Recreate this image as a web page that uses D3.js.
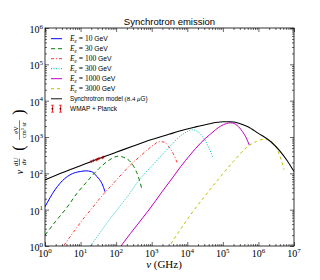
<!DOCTYPE html>
<html>
<head>
<meta charset="utf-8">
<script src="https://cdn.jsdelivr.net/npm/d3@7"></script>
<style>
  html, body { margin: 0; padding: 0; background: #fff; }
  svg { display: block; }
  .serif { font-family: 'Liberation Serif', 'DejaVu Serif', serif; }
  .sans { font-family: 'Liberation Sans', Arial, sans-serif; }
</style>
</head>
<body>
<svg id="chart" width="320" height="280"></svg>
<script>
// Frequencies in GHz, values in eV / (cm^3 sr)
const nuE10 = [1, 1.9, 3.6, 7.1, 9.8, 14, 20, 29, 40, 49];
const valE10 = [12, 35, 72, 105, 112, 117, 112, 81, 52, 31];

const nuE30 = [1, 2, 4, 7.9, 16, 32, 63, 112, 200, 316, 417, 525];
const valE30 = [2.0, 4.8, 11, 28, 63, 132, 229, 295, 251, 151, 83, 38];

const nuE100 = [2.5, 3.3, 6.3, 12.6, 21, 40, 85, 158, 251, 447, 741, 1122, 1585, 2239, 3020, 3981, 5248];
const valE100 = [0.7, 1.0, 2.4, 6.0, 11, 24, 54, 105, 170, 282, 437, 603, 741, 724, 537, 355, 191];

const nuE300 = [15.8, 31.6, 56, 105, 200, 479, 1000, 1995, 3548, 6457, 10000, 13804, 19953, 29512, 39811, 53703];
const valE300 = [0.79, 2.0, 4.4, 9.8, 22, 72, 158, 331, 603, 1072, 1413, 1585, 1380, 912, 525, 257];

const nuE1000 = [112, 251, 501, 832, 1995, 3981, 6457, 12589, 23442, 44668, 87096, 125893, 165959, 251189, 354813, 457088, 549541];
const valE1000 = [0.76, 2.2, 5.2, 9.8, 32, 79, 151, 339, 676, 1202, 1995, 2344, 2455, 2089, 1413, 933, 603];

const nuE3000 = [2818, 6310, 12589, 31623, 77625, 199526, 489779, 891251, 1445440, 2238721, 3467369, 4365158, 5248075];
const valE3000 = [0.83, 2.8, 7.4, 24, 72, 214, 537, 759, 871, 759, 437, 240, 126];

const nuModel = [1, 3.16, 10, 31.6, 100, 316, 1000, 3162, 6457, 15849, 39811, 1e5, 158489, 281838, 489779, 1e6, 2238721, 3981072, 6309573, 1e7];
const valModel = [66, 105, 162, 251, 380, 575, 851, 1202, 1479, 1862, 2291, 2630, 2630, 2399, 1950, 1259, 741, 417, 229, 112];

const nuObs = [20, 23, 28, 30, 33, 41, 44];
const valObs = [212, 224, 236, 245, 255, 270, 280];
const errObs = [14, 14, 15, 15, 16, 17, 18];

const energies = ['10', '30', '100', '300', '1000', '3000'];
const xTickExps = [0, 1, 2, 3, 4, 5, 6, 7];
const yTickExps = [0, 1, 2, 3, 4, 5, 6];

// Layout
const LEFT = 45;
const RIGHT = 294;
const TOP = 28;
const BOTTOM = 246;

const svg = d3.select('#chart');

const x = d3.scaleLog([1, 1e7], [LEFT, RIGHT]);
const y = d3.scaleLog([1, 1e6], [BOTTOM, TOP]);

// Curves, one per electron energy
const curves = [
  { nu: nuE10, val: valE10, color: '#0000ff', dash: null, width: 1 },
  { nu: nuE30, val: valE30, color: '#008000', dash: '4,3', width: 1 },
  { nu: nuE100, val: valE100, color: '#ff3333', dash: '3,2,1,2', width: 1 },
  { nu: nuE300, val: valE300, color: '#00bfbf', dash: '1,1.5', width: 1 },
  { nu: nuE1000, val: valE1000, color: '#bf00bf', dash: null, width: 1 },
  { nu: nuE3000, val: valE3000, color: '#bfbf00', dash: '3,3', width: 1 },
];
const model = { nu: nuModel, val: valModel, color: '#000', dash: null, width: 1.1 };

svg.append('clipPath').attr('id', 'plot-clip')
  .append('rect')
  .attr('x', LEFT).attr('y', TOP)
  .attr('width', RIGHT - LEFT).attr('height', BOTTOM - TOP);

const line = d3.line()
  .x((d) => x(d[0]))
  .y((d) => y(d[1]))
  .curve(d3.curveMonotoneX);

const plot = svg.append('g').attr('clip-path', 'url(#plot-clip)');

[...curves, model].forEach((c) => {
  plot.append('path')
    .datum(c.nu.map((n, i) => [n, c.val[i]]))
    .attr('fill', 'none')
    .attr('stroke', c.color)
    .attr('stroke-width', c.width)
    .attr('stroke-dasharray', c.dash)
    .attr('d', line);
});

// WMAP + Planck points with error bars
const obs = plot.append('g');
nuObs.forEach((n, i) => {
  const px = x(n);
  const y0 = y(valObs[i] - errObs[i]);
  const y1 = y(valObs[i] + errObs[i]);
  obs.append('line')
    .attr('x1', px).attr('x2', px).attr('y1', y0).attr('y2', y1)
    .attr('stroke', '#ff0000').attr('stroke-width', 0.6);
  [y0, y1].forEach((yy) => {
    obs.append('line')
      .attr('x1', px - 0.8).attr('x2', px + 0.8).attr('y1', yy).attr('y2', yy)
      .attr('stroke', '#ff0000').attr('stroke-width', 0.5);
  });
  obs.append('circle')
    .attr('cx', px).attr('cy', y(valObs[i])).attr('r', 0.8)
    .attr('fill', '#8b0000');
});

// Axes: ticks point inwards on all four sides
const majorX = xTickExps.map((e) => 10 ** e);
const minorX = majorX.slice(0, -1).flatMap((m) => d3.range(2, 10).map((k) => k * m));
const majorY = yTickExps.map((e) => 10 ** e);
const minorY = majorY.slice(0, -1).flatMap((m) => d3.range(2, 10).map((k) => k * m));

function addTicks(axisFn, scale, transform, values, size) {
  const g = svg.append('g')
    .attr('transform', transform)
    .call(axisFn(scale).tickValues(values).tickSize(-size).tickSizeOuter(0).tickFormat(''));
  g.select('.domain').remove();
  g.selectAll('line').attr('stroke', '#000').attr('stroke-width', 0.6);
}

[[majorX, 4], [minorX, 2]].forEach(([vals, size]) => {
  addTicks(d3.axisBottom, x, `translate(0,${BOTTOM})`, vals, size);
  addTicks(d3.axisTop, x, `translate(0,${TOP})`, vals, size);
});
[[majorY, 4], [minorY, 2]].forEach(([vals, size]) => {
  addTicks(d3.axisLeft, y, `translate(${LEFT},0)`, vals, size);
  addTicks(d3.axisRight, y, `translate(${RIGHT},0)`, vals, size);
});

svg.append('rect')
  .attr('x', LEFT).attr('y', TOP)
  .attr('width', RIGHT - LEFT).attr('height', BOTTOM - TOP)
  .attr('fill', 'none').attr('stroke', '#000').attr('stroke-width', 0.8);

// Tick labels as 10^n
svg.append('g').attr('class', 'serif')
  .selectAll('text').data(xTickExps).join('text')
  .attr('x', (d) => x(10 ** d))
  .attr('y', 257)
  .attr('text-anchor', 'middle')
  .attr('font-size', 10)
  .each(function (d) {
    const t = d3.select(this);
    t.append('tspan').text('10');
    t.append('tspan').attr('dy', -4.5).attr('font-size', 7).text(d);
  });

svg.append('g').attr('class', 'serif')
  .selectAll('text').data(yTickExps).join('text')
  .attr('x', 43)
  .attr('y', (d) => y(10 ** d) + 5)
  .attr('text-anchor', 'end')
  .attr('font-size', 10)
  .each(function (d) {
    const t = d3.select(this);
    t.append('tspan').text('10');
    t.append('tspan').attr('dy', -4.5).attr('font-size', 7).text(d);
  });

// Title
svg.append('text').attr('class', 'sans')
  .attr('x', 169.5).attr('y', 25)
  .attr('text-anchor', 'middle')
  .attr('font-size', 9.5)
  .text('Synchrotron emission');

// x label
const xl = svg.append('text').attr('class', 'serif')
  .attr('x', 164).attr('y', 268)
  .attr('text-anchor', 'middle')
  .attr('font-size', 11);
xl.append('tspan').attr('font-style', 'italic').text('ν');
xl.append('tspan').text(' (GHz)');

// y label, rotated, with two fractions
function fraction(g, cx, num, den, size) {
  const w = Math.max(num.length, den.length) * size * 0.5;
  g.append('text').attr('class', 'serif').attr('x', cx).attr('y', -1.6)
    .attr('text-anchor', 'middle').attr('font-size', size).text(num);
  g.append('text').attr('class', 'serif').attr('x', cx).attr('y', 6.2)
    .attr('text-anchor', 'middle').attr('font-size', size).text(den);
  g.append('line')
    .attr('x1', cx - w / 2).attr('x2', cx + w / 2).attr('y1', 0).attr('y2', 0)
    .attr('stroke', '#000').attr('stroke-width', 0.5);
}

const yl = svg.append('g').attr('transform', 'translate(19.5,141) rotate(-90)');
yl.append('text').attr('class', 'serif')
  .attr('x', -31).attr('y', 3.5).attr('text-anchor', 'middle')
  .attr('font-size', 10).attr('font-style', 'italic').text('ν');
yl.append('g').attr('font-style', 'italic').call((g) => fraction(g, -21, 'dU', 'dν', 7));
yl.append('text').attr('class', 'serif')
  .attr('x', -7).attr('y', 4.5).attr('text-anchor', 'middle')
  .attr('font-size', 16).text('(');
fraction(yl, 11, 'eV', 'cm³ sr', 6.5);
yl.append('text').attr('class', 'serif')
  .attr('x', 29).attr('y', 4.5).attr('text-anchor', 'middle')
  .attr('font-size', 16).text(')');

// Legend
const legend = svg.append('g');
const ROW0 = 38.7;
const ROW_STEP = 10;

energies.forEach((e, i) => {
  const c = curves[i];
  const yy = ROW0 + i * ROW_STEP;
  legend.append('line')
    .attr('x1', 51).attr('x2', 62).attr('y1', yy).attr('y2', yy)
    .attr('stroke', c.color).attr('stroke-width', c.width)
    .attr('stroke-dasharray', c.dash);
  const t = legend.append('text').attr('x', 70).attr('y', yy + 2.6).attr('font-size', 7.5);
  t.append('tspan').attr('class', 'serif').attr('font-style', 'italic').text('E');
  t.append('tspan').attr('class', 'serif').attr('font-style', 'italic')
    .attr('font-size', 5.2).attr('dy', 1.6).text('e');
  t.append('tspan').attr('class', 'serif').attr('dy', -1.6).text(` = ${e}`);
  t.append('tspan').attr('class', 'sans').attr('font-size', 6.8).text(' GeV');
});

{
  const yy = ROW0 + 6 * ROW_STEP;
  legend.append('line')
    .attr('x1', 51).attr('x2', 62).attr('y1', yy).attr('y2', yy)
    .attr('stroke', '#555').attr('stroke-width', 1.4);
  const t = legend.append('text').attr('x', 70).attr('y', yy + 2.6).attr('font-size', 6.3);
  t.append('tspan').attr('class', 'sans').text('Synchrotron model ');
  t.append('tspan').attr('class', 'serif').attr('font-size', 6.8).text('(8.4 ');
  t.append('tspan').attr('class', 'serif').attr('font-size', 6.8).attr('font-style', 'italic').text('μ');
  t.append('tspan').attr('class', 'sans').text('G)');
}

{
  const yy = ROW0 + 7 * ROW_STEP;
  [52.5, 60.5].forEach((px) => {
    legend.append('line')
      .attr('x1', px).attr('x2', px).attr('y1', yy - 3.5).attr('y2', yy + 3.5)
      .attr('stroke', '#ff0000').attr('stroke-width', 0.8);
    [yy - 3.5, yy + 3.5].forEach((cy) => {
      legend.append('line')
        .attr('x1', px - 1.5).attr('x2', px + 1.5).attr('y1', cy).attr('y2', cy)
        .attr('stroke', '#ff0000').attr('stroke-width', 0.7);
    });
    legend.append('circle').attr('cx', px).attr('cy', yy).attr('r', 1).attr('fill', '#8b0000');
  });
  legend.append('text').attr('class', 'sans')
    .attr('x', 70).attr('y', yy + 2.6).attr('font-size', 6.5)
    .text('WMAP + Planck');
}
</script>
</body>
</html>
